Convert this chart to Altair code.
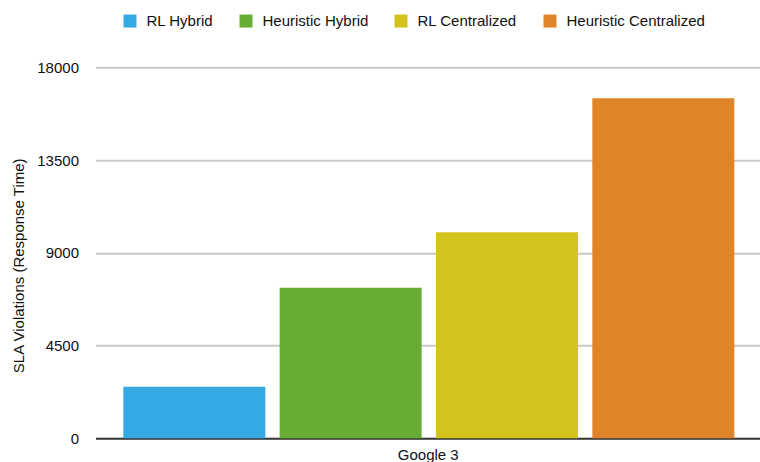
import altair as alt
import pandas as pd

# Series and their SLA violation counts (response time) for the Google 3 trace
series = ["RL Hybrid", "Heuristic Hybrid", "RL Centralized", "Heuristic Centralized"]
violations = [2500, 7300, 10000, 16500]
colors = ["#35a9e1", "#67ad33", "#d4c31c", "#e08429"]
y_ticks = [0, 4500, 9000, 13500, 18000]
group_label = "Google 3"

df = pd.DataFrame({"series": series, "violations": violations})

FONT = "Liberation Sans"

bars = alt.Chart(df).mark_bar(cornerRadius=0).encode(
    x=alt.X(
        "series:N",
        sort=series,
        scale=alt.Scale(paddingInner=0.0917, paddingOuter=0.171, align=0.52),
        axis=alt.Axis(
            title=group_label,
            labels=False,
            ticks=False,
            grid=False,
            domain=True,
            domainColor="#3a3a3a",
            domainWidth=2,
            titleFont=FONT,
            titleFontSize=15,
            titleFontWeight="normal",
            titleColor="#111111",
            titleBaseline="alphabetic",
            titleY=21,
        ),
    ),
    y=alt.Y(
        "violations:Q",
        scale=alt.Scale(domain=[0, 18000], nice=False),
        axis=alt.Axis(
            title="SLA Violations (Response Time)",
            values=y_ticks,
            format="d",
            grid=True,
            gridColor="#c8c8c8",
            gridWidth=2,
            domain=False,
            ticks=False,
            labelFont=FONT,
            labelFontSize=15,
            labelColor="#111111",
            labelPadding=17,
            titleFont=FONT,
            titleFontSize=15,
            titleFontWeight="normal",
            titleColor="#111111",
            titleAngle=-90,
            titleAlign="center",
            titleBaseline="alphabetic",
            titleX=-72,
            titleY=198,
        ),
    ),
    color=alt.Color(
        "series:N",
        sort=series,
        scale=alt.Scale(domain=series, range=colors),
        legend=alt.Legend(
            title=None,
            orient="none",
            direction="horizontal",
            legendX=27,
            legendY=-54,
            padding=0,
            symbolType="square",
            symbolSize=169,
            symbolStrokeWidth=0,
            symbolOpacity=1,
            labelFont=FONT,
            labelFontSize=15,
            labelColor="#111111",
            labelOffset=9,
            columnPadding=25,
        ),
    ),
)

chart = bars.properties(
    width=664.5,
    height=371,
    autosize=alt.AutoSizeParams(type="none"),
    padding={"left": 95.5, "top": 67.3, "right": 0, "bottom": 23.7},
    background="white",
).configure_view(stroke=None)

chart.save("out.html", embed_options={"renderer": "svg", "actions": False})
